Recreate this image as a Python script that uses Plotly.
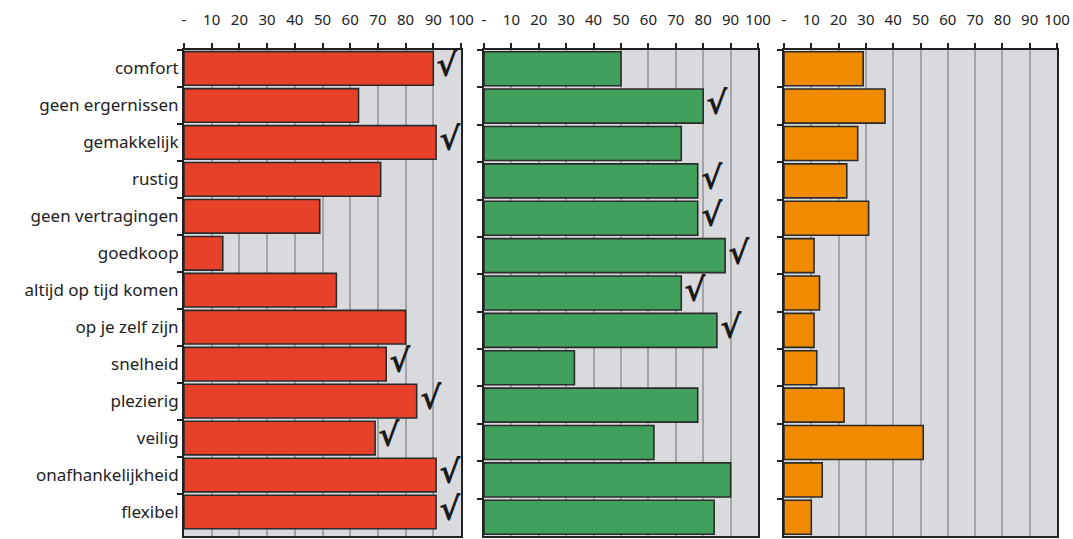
import plotly.graph_objects as go

# Row labels (top to bottom)
categories = [
    "comfort", "geen ergernissen", "gemakkelijk", "rustig", "geen vertragingen",
    "goedkoop", "altijd op tijd komen", "op je zelf zijn", "snelheid",
    "plezierig", "veilig", "onafhankelijkheid", "flexibel",
]

# Scores per panel (0-100)
values_red = [90, 63, 91, 71, 49, 14, 55, 80, 73, 84, 69, 91, 91]
values_green = [50, 80, 72, 78, 78, 88, 72, 85, 33, 78, 62, 90, 84]
values_orange = [29, 37, 27, 23, 31, 11, 13, 11, 12, 22, 51, 14, 10]

# Rows marked with a check sign in each panel
checks_red = [1, 0, 1, 0, 0, 0, 0, 0, 1, 1, 1, 1, 1]
checks_green = [0, 1, 0, 1, 1, 1, 1, 1, 0, 0, 0, 0, 0]
checks_orange = [0] * 13

# Top axis ticks
tick_vals = [0, 10, 20, 30, 40, 50, 60, 70, 80, 90, 100]
tick_text = ["-", "10", "20", "30", "40", "50", "60", "70", "80", "90", "100"]

W, H = 1073, 539
panels = [
    (values_red, checks_red, "#e8412a", (184, 461)),
    (values_green, checks_green, "#40a05c", (484, 758)),
    (values_orange, checks_orange, "#f08b00", (784, 1057)),
]

FONT = "Noto Sans"
INK = "#222222"

fig = go.Figure()
annotations = []
layout = {}
for i, (vals, checks, color, (px0, px1)) in enumerate(panels, start=1):
    xa = "x" if i == 1 else f"x{i}"
    ya = "y" if i == 1 else f"y{i}"
    fig.add_trace(go.Bar(
        x=vals, y=categories, orientation="h",
        marker=dict(color=color, line=dict(color="#2b2b2b", width=1.6)),
        xaxis=xa, yaxis=ya, showlegend=False, hoverinfo="x+y",
    ))
    key = "" if i == 1 else str(i)
    layout[f"xaxis{key}"] = dict(
        domain=[px0 / W, px1 / W], range=[0, 100], side="top",
        tickvals=tick_vals, ticktext=tick_text,
        ticks="outside", ticklen=5, tickwidth=1.5, tickcolor=INK,
        ticklabelstandoff=12,
        tickfont=dict(family=FONT, size=15, color=INK),
        showgrid=True, gridcolor="#a3a4a7", gridwidth=2,
        showline=True, mirror=True, linecolor=INK, linewidth=2,
        zeroline=False, anchor=ya, fixedrange=True, automargin=False,
    )
    layout[f"yaxis{key}"] = dict(
        domain=[0, 1], type="category", categoryorder="array",
        categoryarray=categories, autorange="reversed",
        tickson="boundaries", ticks="outside", ticklen=5, tickwidth=1.5,
        tickcolor=INK, showticklabels=(i == 1),
        tickfont=dict(family=FONT, size=17, color=INK),
        showline=True, mirror=True, linecolor=INK, linewidth=2,
        showgrid=False, zeroline=False, anchor=xa, fixedrange=True,
        automargin=False,
    )
    for cat, v, c in zip(categories, vals, checks):
        if c:
            annotations.append(dict(
                x=v, y=cat, xref=xa, yref=ya, text="<b>√</b>",
                showarrow=False, xanchor="left", yanchor="middle",
                xshift=1, yshift=3,
                font=dict(family="DejaVu Sans", size=32, color="#1a1a1a"),
            ))

fig.update_layout(
    width=W, height=H,
    margin=dict(l=0, r=0, t=50, b=3),
    paper_bgcolor="white", plot_bgcolor="#d9dadd",
    bargap=0.09, annotations=annotations, **layout,
)

fig.write_html("out.html")
